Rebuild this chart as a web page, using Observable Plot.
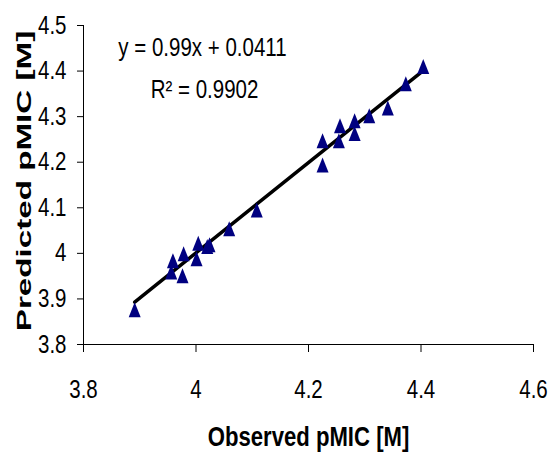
<!DOCTYPE html>
<html>
<head>
<meta charset="utf-8">
<script src="https://cdn.jsdelivr.net/npm/d3@7"></script>
<script src="https://cdn.jsdelivr.net/npm/@observablehq/plot@0.6"></script>
<style>
  html, body { margin: 0; padding: 0; background: #fff; }
  #chart { width: 550px; height: 457px; }
</style>
</head>
<body>
<div id="chart"></div>
<script>
// Observed vs predicted pMIC values
const observed  = [3.891, 3.956, 3.959, 3.976, 3.978, 4.001, 4.004, 4.020, 4.024, 4.059, 4.108, 4.225, 4.225, 4.254, 4.256, 4.282, 4.282, 4.308, 4.341, 4.373, 4.404];
const predicted = [3.876, 3.959, 3.984, 3.951, 3.999, 3.988, 4.022, 4.015, 4.019, 4.054, 4.095, 4.194, 4.247, 4.247, 4.280, 4.263, 4.291, 4.302, 4.319, 4.372, 4.410];

// Trendline parameters (as shown on chart)
const slope = 0.99;
const intercept = 0.0411;
const r2 = 0.9902;

// Axis ticks and titles
const xTicks = [3.8, 4.0, 4.2, 4.4, 4.6];
const yTicks = [3.8, 3.9, 4.0, 4.1, 4.2, 4.3, 4.4, 4.5];
const xTitle = "Observed pMIC [M]";
const yTitle = "Predicted pMIC [M]";

const points = observed.map((o, i) => ({observed: o, predicted: predicted[i]}));
const xMin = d3.min(observed), xMax = d3.max(observed);
const trend = [xMin, xMax].map(x => ({observed: x, predicted: slope * x + intercept}));

// Excel-style tall triangle marker
const triangle = {
  draw(ctx, size) {
    const w = 6, h = 7.5;
    ctx.moveTo(0, -h);
    ctx.lineTo(w, h);
    ctx.lineTo(-w, h);
    ctx.closePath();
  }
};

const sans = "'Liberation Sans', Arial, sans-serif";

const chart = Plot.plot({
  width: 550,
  height: 457,
  marginLeft: 83,
  marginRight: 17,
  marginTop: 25,
  marginBottom: 113,
  style: {fontFamily: sans, fontSize: "25px", color: "#000", background: "#fff"},
  x: {domain: [3.8, 4.6]},
  y: {domain: [3.8, 4.5]},
  marks: [
    Plot.axisX({ticks: xTicks, tickSize: 8, tickPadding: 28, tickFormat: d => String(+d.toFixed(1)), label: null, fontSize: 25}),
    Plot.axisY({ticks: yTicks, tickSize: 6, tickPadding: 11, tickFormat: d => String(+d.toFixed(1)), label: null, fontSize: 25}),
    Plot.ruleX([3.8], {stroke: "#000", strokeWidth: 1}),
    Plot.ruleY([3.8], {stroke: "#000", strokeWidth: 1}),
    Plot.line(trend, {x: "observed", y: "predicted", stroke: "#000", strokeWidth: 3.5}),
    Plot.dot(points, {x: "observed", y: "predicted", symbol: triangle, r: 6, fill: "#000080", stroke: "none"}),
    Plot.text([`y = ${slope}x + ${intercept}`], {text: d => d, frameAnchor: "top-left", dx: 119, dy: 22, textAnchor: "middle", lineAnchor: "middle", fontSize: 25}),
    Plot.text([`R² = ${r2}`], {text: d => d, frameAnchor: "top-left", dx: 121, dy: 64, textAnchor: "middle", lineAnchor: "middle", fontSize: 25}),
    Plot.text([xTitle], {text: d => d, frameAnchor: "bottom", dy: 93, lineAnchor: "middle", fontWeight: "bold", fontSize: 27}),
    Plot.text([yTitle], {text: d => d, frameAnchor: "left", dx: -59, dy: -4, rotate: -90, textAnchor: "middle", lineAnchor: "middle", fontWeight: "bold", fontSize: 20})
  ]
});

// Horizontal scaling to imitate Arial Narrow (and the stretched y title)
function scaleText(t, sx) {
  const tr = t.getAttribute("transform");
  if (tr) {
    t.setAttribute("transform", tr + ` scale(${sx},1)`);
  } else {
    const x = +(t.getAttribute("x") || 0), y = +(t.getAttribute("y") || 0);
    t.setAttribute("transform", `translate(${x},${y}) scale(${sx},1) translate(${-x},${-y})`);
  }
}
chart.querySelectorAll("text").forEach(t => {
  if (t.textContent === yTitle) scaleText(t, 1.66);
  else scaleText(t, 0.82);
});

document.getElementById("chart").appendChild(chart);
</script>
</body>
</html>
